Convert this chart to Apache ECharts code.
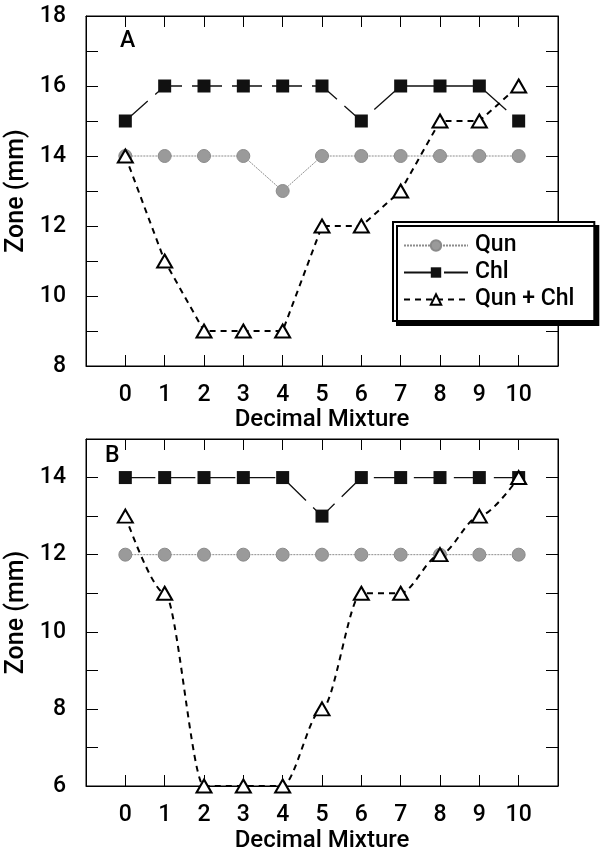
<!DOCTYPE html>
<html>
<head>
<meta charset="utf-8">
<script src="https://cdn.jsdelivr.net/npm/echarts@6/dist/echarts.min.js"></script>
<style>
  html, body { margin: 0; padding: 0; background: #fff; }
  #chart { width: 605px; height: 854px; }
</style>
</head>
<body>
<div id="chart"></div>
<script>
// decimal mixture steps (x)
const mixture = [0, 1, 2, 3, 4, 5, 6, 7, 8, 9, 10];

// panel A
const qunA = [14, 14, 14, 14, 13, 14, 14, 14, 14, 14, 14];
const chlA = [15, 16, 16, 16, 16, 16, 15, 16, 16, 16, 15];
const mixA = [14, 11, 9, 9, 9, 12, 12, 13, 15, 15, 16];

// panel B
const qunB = [12, 12, 12, 12, 12, 12, 12, 12, 12, 12, 12];
const chlB = [14, 14, 14, 14, 14, 13, 14, 14, 14, 14, 14];
const mixB = [13, 11, 6, 6, 6, 8, 11, 11, 12, 13, 14];

const names = ["Qun", "Chl", "Qun + Chl"];
const font = "Roboto";
const fs = 23;
const fw = 500;

const pts = (ys) => mixture.map((x, i) => [x, ys[i]]);

const chart = echarts.init(document.getElementById("chart"));

function xAxes(gridIndex) {
  const base = {
    type: "value",
    gridIndex: gridIndex,
    min: -1,
    max: 11,
    interval: 1,
    splitLine: { show: false },
    axisLine: { onZero: false, lineStyle: { color: "#000", width: 1 } },
    axisTick: { inside: true, length: 11, lineStyle: { color: "#000" } },
  };
  return [
    Object.assign({}, base, {
      position: "bottom",
      name: "Decimal Mixture",
      nameLocation: "middle",
      nameGap: gridIndex == 0 ? 41 : 43,
      nameTextStyle: { fontFamily: font, fontSize: 24, fontWeight: fw, color: "#000" },
      axisLabel: {
        margin: 18,
        fontFamily: font,
        fontSize: fs,
        fontWeight: fw,
        color: "#000",
        formatter: (v) => (v < 0 || v > 10 ? "" : v),
      },
    }),
    Object.assign({}, base, { position: "top", axisLabel: { show: false } }),
  ];
}

function yAxes(gridIndex, min, max) {
  const base = {
    type: "value",
    gridIndex: gridIndex,
    min: min,
    max: max,
    interval: 1,
    splitLine: { show: false },
    axisLine: { show: true, onZero: false, lineStyle: { color: "#000", width: 1 } },
    axisTick: { inside: true, length: 12, lineStyle: { color: "#000" } },
  };
  return [
    Object.assign({}, base, {
      position: "left",
      name: "Zone (mm)",
      nameLocation: "middle",
      nameGap: 52,
      nameTextStyle: { fontFamily: font, fontSize: 25, fontWeight: fw, color: "#000" },
      axisLabel: {
        margin: 20,
        fontFamily: font,
        fontSize: fs,
        fontWeight: fw,
        color: "#000",
        formatter: (v) => (v % 2 == 0 ? v : ""),
      },
    }),
    Object.assign({}, base, { position: "right", axisLabel: { show: false } }),
  ];
}

function panelSeries(idx, qun, chl, mix, smoothMix) {
  return [
    {
      name: names[0],
      type: "line",
      xAxisIndex: idx * 2,
      yAxisIndex: idx * 2,
      data: pts(qun),
      symbol: "circle",
      symbolSize: 13,
      itemStyle: { color: "#9a9a9a", borderColor: "#8a8a8a", borderWidth: 1 },
      lineStyle: { color: "#8c8c8c", width: 1, type: [2, 1] },
      z: 2,
    },
    {
      name: names[1],
      type: "line",
      xAxisIndex: idx * 2,
      yAxisIndex: idx * 2,
      data: pts(chl),
      symbol: "rect",
      symbolSize: 13,
      itemStyle: { color: "#111" },
      lineStyle: { color: "#111", width: 1.3, type: [30, 10] },
      z: 3,
    },
    {
      name: names[2],
      type: "line",
      xAxisIndex: idx * 2,
      yAxisIndex: idx * 2,
      data: pts(mix),
      smooth: smoothMix,
      smoothMonotone: "x",
      symbol: "triangle",
      symbolSize: [15, 13],
      itemStyle: { color: "#fff", borderColor: "#000", borderWidth: 2 },
      lineStyle: { color: "#000", width: 2, type: [6, 5] },
      z: 4,
    },
  ];
}

const option = {
  animation: false,
  textStyle: { fontFamily: font },
  title: [
    { text: "A", left: 120, top: 30, padding: 0, textStyle: { fontFamily: font, fontSize: fs, fontWeight: fw, color: "#000" } },
    { text: "B", left: 105, top: 445, padding: 0, textStyle: { fontFamily: font, fontSize: fs, fontWeight: fw, color: "#000" } },
  ],
  legend: {
    data: names,
    orient: "vertical",
    left: 393,
    top: 222,
    padding: [12, 20, 10, 10],
    itemGap: 4,
    itemWidth: 64,
    itemHeight: 13,
    backgroundColor: "#fff",
    borderColor: "#000",
    borderWidth: 2,
    shadowColor: "#000",
    shadowBlur: 0,
    shadowOffsetX: 4,
    shadowOffsetY: 4,
    textStyle: { fontFamily: font, fontSize: 23, fontWeight: fw, color: "#000", padding: [0, 0, 0, 2] },
    z: 10,
  },
  grid: [
    { left: 86, top: 16, width: 472, height: 350, outerBoundsMode: "none", show: true, borderColor: "#000", borderWidth: 1 },
    { left: 86, top: 439, width: 472, height: 347, outerBoundsMode: "none", show: true, borderColor: "#000", borderWidth: 1 },
  ],
  xAxis: xAxes(0).concat(xAxes(1)),
  yAxis: yAxes(0, 8, 18).concat(yAxes(1, 6, 15)),
  series: panelSeries(0, qunA, chlA, mixA, false).concat(panelSeries(1, qunB, chlB, mixB, 0.3)),
};

chart.setOption(option);
</script>
</body>
</html>
